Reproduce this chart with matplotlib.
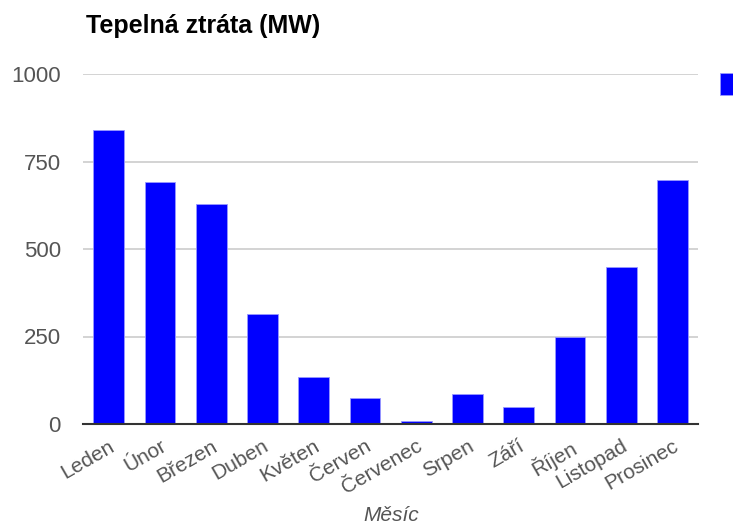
import matplotlib
matplotlib.use("Agg")
import matplotlib.pyplot as plt
from matplotlib.patches import Rectangle

plt.rcParams['font.family'] = ['Liberation Sans', 'DejaVu Sans']

# ---------- data ---------- #
mesice = ['Leden', 'Únor', 'Březen', 'Duben', 'Květen', 'Červen',
          'Červenec', 'Srpen', 'Září', 'Říjen', 'Listopad', 'Prosinec']
ztrata = [840, 692, 628, 313, 134, 75, 10, 85, 49, 250, 450, 698]
y_ticks = [0, 250, 500, 750, 1000]

W, H = 733, 527
fig = plt.figure(figsize=(W / 100, H / 100), dpi=100)
ax = fig.add_axes([83 / W, (H - 424) / H, (698 - 83) / W, 350 / H])

x = list(range(len(mesice)))
ax.bar(x, ztrata, width=0.6, color='#0000ff', edgecolor='#9999ff', linewidth=0.6, zorder=3)

ax.set_xlim(-0.5, len(mesice) - 0.5)
ax.set_ylim(0, 1000)
ax.set_yticks(y_ticks)
ax.set_yticklabels([str(v) for v in y_ticks], color='#555555', fontsize=16)
ax.tick_params(axis='y', length=0, pad=16)
ax.grid(axis='y', color='#cccccc', linewidth=1.2, zorder=0)

ax.set_xticks(x)
ax.set_xticklabels(mesice, rotation=30, ha='right', va='top', rotation_mode='anchor',
                   color='#555555', fontsize=15)
ax.tick_params(axis='x', length=0, pad=9)

for s in ['top', 'right', 'left']:
    ax.spines[s].set_visible(False)
ax.spines['bottom'].set_color('#333333')
ax.spines['bottom'].set_linewidth(1.5)
ax.spines['bottom'].set_zorder(4)

# ---------- titles ---------- #
fig.text(86 / W, (H - 33) / H, 'Tepelná ztráta (MW)', fontsize=18, fontweight='bold',
         ha='left', va='baseline', color='black')
fig.text(391 / W, (H - 521) / H, 'Měsíc', fontsize=15, style='italic',
         ha='center', va='baseline', color='#555555')

# ---------- legend (cut off at right edge) ---------- #
fig.patches.append(Rectangle((720 / W, (H - 95) / H), 22 / W, 22 / H,
                             transform=fig.transFigure, facecolor='#0000ff',
                             edgecolor='#9999ff', linewidth=0.6))

fig.savefig('out.png', dpi=100)
